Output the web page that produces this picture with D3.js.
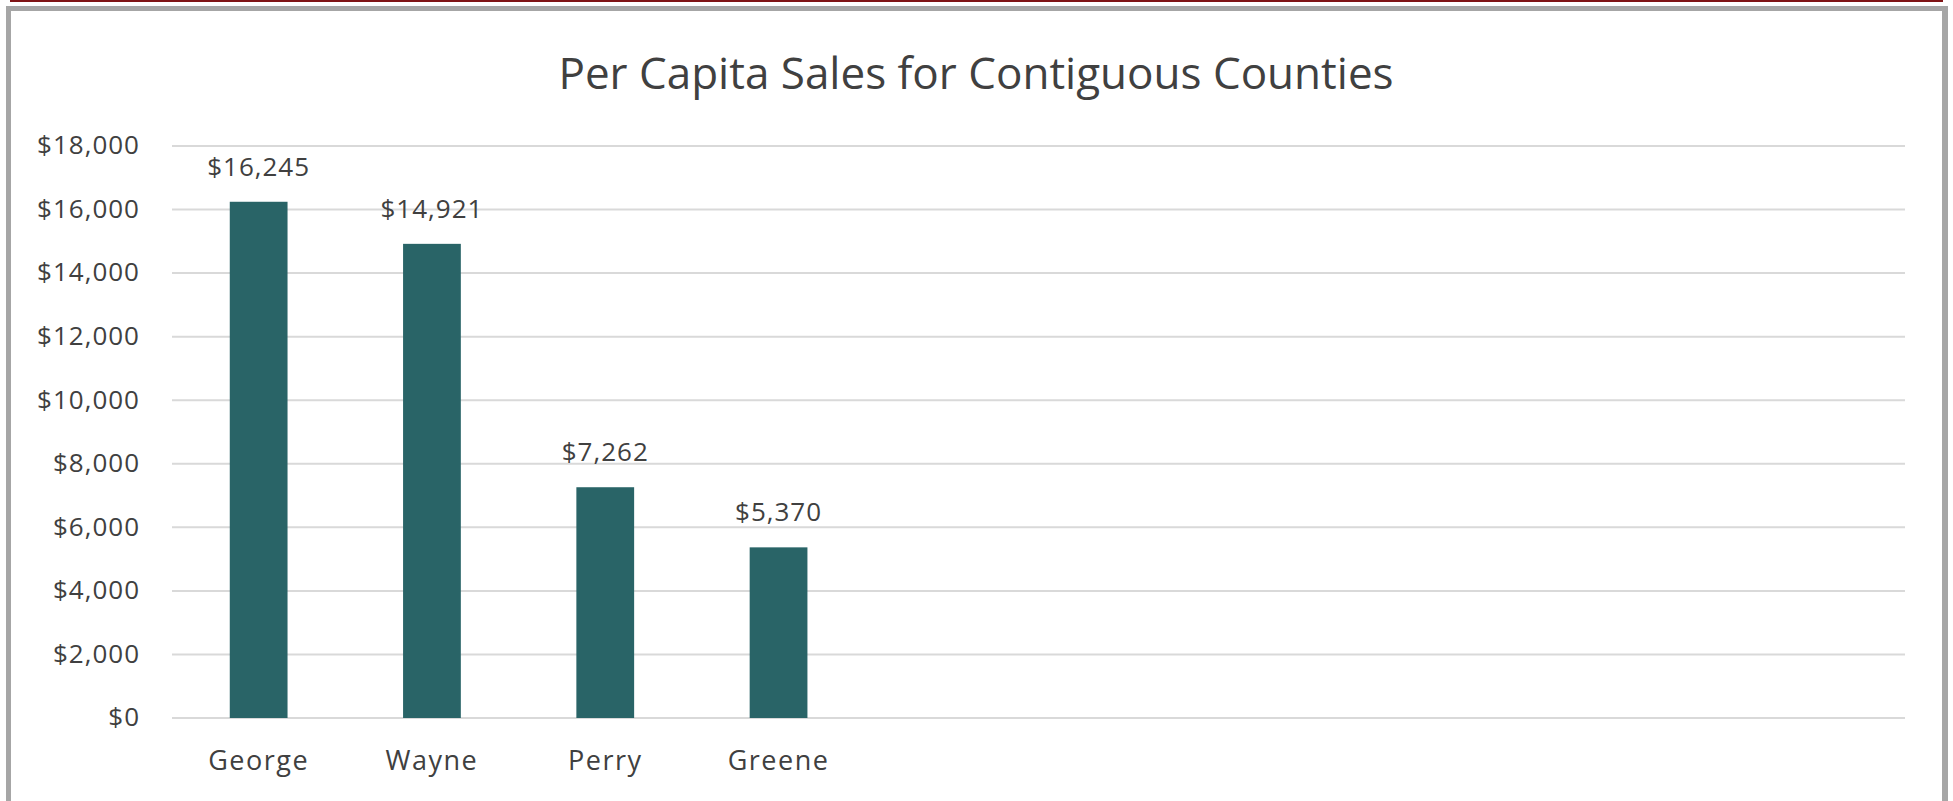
<!DOCTYPE html>
<html>
<head>
<meta charset="utf-8">
<script src="https://cdn.jsdelivr.net/npm/d3@7"></script>
<style>
  body { margin: 0; background: #fff; }
  text { font-family: "Open Sans", Lato, sans-serif; font-variant-ligatures: none; }
</style>
</head>
<body>
<div id="chart"></div>
<script>
// Chart data
const counties = ['George', 'Wayne', 'Perry', 'Greene'];
const sales = [16245, 14921, 7262, 5370];
const slotCount = 10; // Excel axis leaves room for 10 categories, 6 blank
const yTicks = [0, 2000, 4000, 6000, 8000, 10000, 12000, 14000, 16000, 18000];
const titleText = 'Per Capita Sales for Contiguous Counties';

const W = 1953, H = 801;
const margin = { top: 146, right: 48, bottom: 83, left: 172 };
const width = W - margin.left - margin.right;
const height = H - margin.top - margin.bottom;

const root = d3.select('#chart').append('svg')
    .attr('width', W)
    .attr('height', H);

// Frame: thin dark red rule on top, gray border round the chart
root.append('rect').attr('x', 10).attr('y', 0).attr('width', 1933).attr('height', 2).attr('fill', '#7f1416');
root.append('rect').attr('x', 6).attr('y', 6).attr('width', 1942).attr('height', 5).attr('fill', '#a6a6a6');
root.append('rect').attr('x', 6).attr('y', 6).attr('width', 5).attr('height', H).attr('fill', '#a6a6a6');
root.append('rect').attr('x', 1942).attr('y', 6).attr('width', 6).attr('height', H).attr('fill', '#a6a6a6');

// Title
root.append('text')
    .attr('x', 976).attr('y', 89)
    .attr('text-anchor', 'middle')
    .attr('fill', '#404040')
    .style('font-size', '44px')
    .text(titleText);

const svg = root.append('g')
    .attr('transform', `translate(${margin.left},${margin.top})`);

const slots = d3.range(slotCount);
const x = d3.scaleBand().domain(slots).range([0, width]).paddingInner(2 / 3).paddingOuter(1 / 3);
const y = d3.scaleLinear().domain([0, 18000]).range([height, 0]);

// Gridlines
svg.append('g')
    .selectAll('line')
    .data(yTicks)
    .enter()
    .append('line')
    .attr('x1', 0).attr('x2', width)
    .attr('y1', d => y(d)).attr('y2', d => y(d))
    .attr('stroke', '#d9d9d9')
    .attr('stroke-width', 2);

// Y axis labels
const yAxis = svg.append('g')
    .attr('transform', 'translate(-29,0)')
    .call(d3.axisLeft(y).tickValues(yTicks).tickSize(0).tickFormat(d => '$' + d3.format(',')(d)));
yAxis.select('.domain').remove();
yAxis.selectAll('text')
    .attr('fill', '#404040')
    .attr('dy', '0.3em')
    .style('font-size', '26px')
    .style('letter-spacing', '1px');

// X axis labels
const xAxis = svg.append('g')
    .attr('transform', `translate(0,${height})`)
    .call(d3.axisBottom(x).tickSize(0).tickFormat(i => counties[i] || ''));
xAxis.select('.domain').remove();
xAxis.selectAll('text')
    .attr('fill', '#404040')
    .attr('y', 52)
    .attr('dy', 0)
    .style('font-size', '27px')
    .style('letter-spacing', '1.5px');

// Bars
svg.selectAll('.bar')
    .data(sales)
    .enter()
    .append('rect')
    .attr('x', (d, i) => x(i))
    .attr('y', d => y(d))
    .attr('width', x.bandwidth())
    .attr('height', d => height - y(d))
    .attr('fill', '#296467');

// Value labels
svg.selectAll('.label')
    .data(sales)
    .enter()
    .append('text')
    .attr('x', (d, i) => x(i) + x.bandwidth() / 2)
    .attr('y', d => y(d) - 26)
    .attr('text-anchor', 'middle')
    .attr('fill', '#404040')
    .style('font-size', '26px')
    .style('letter-spacing', '1px')
    .text(d => '$' + d3.format(',')(d));
</script>
</body>
</html>
